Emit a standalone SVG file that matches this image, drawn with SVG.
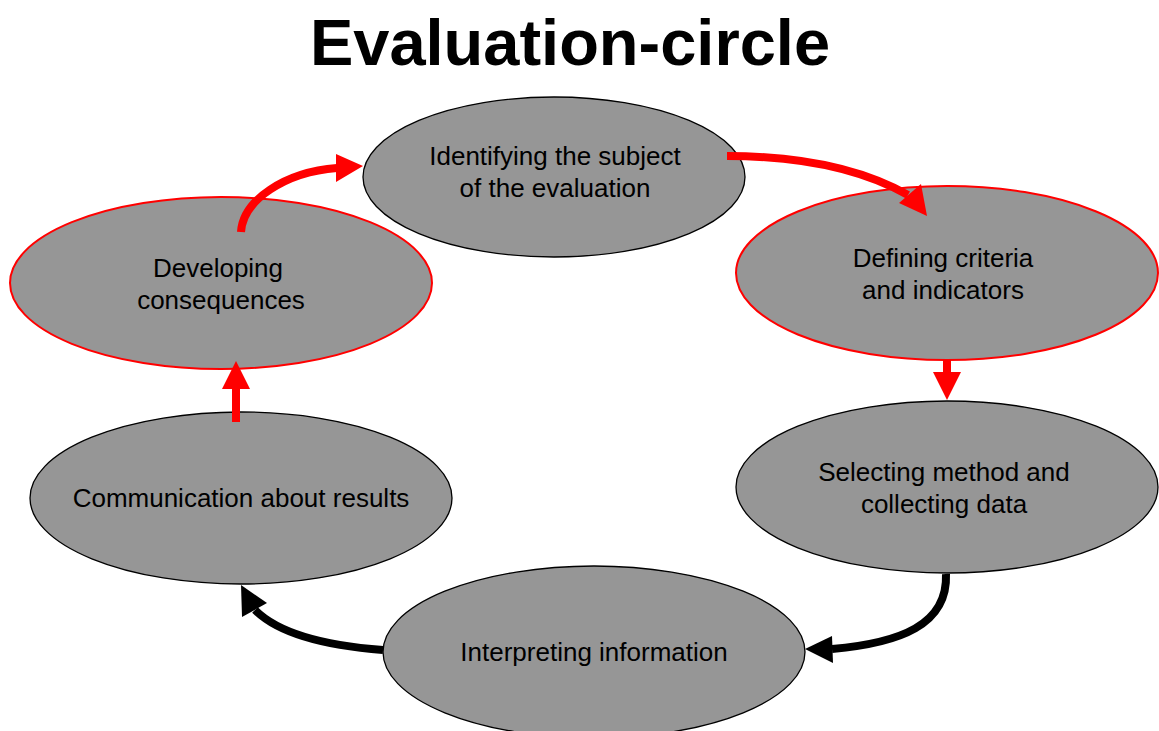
<svg xmlns="http://www.w3.org/2000/svg" width="1159" height="731" viewBox="0 0 1159 731">
<style>
.node{fill:#969696;stroke:#000;stroke-width:1.3}
.rnode{fill:#969696;stroke:#ff0000;stroke-width:2}
.lbl{font-family:"Liberation Sans",Arial,sans-serif;font-size:26px;fill:#000;text-anchor:middle}
.title{font-family:"Liberation Sans",Arial,sans-serif;font-size:65px;font-weight:bold;fill:#000;text-anchor:middle}
.rc{fill:none;stroke:#ff0000;stroke-width:8}
.bc{fill:none;stroke:#000;stroke-width:8}
.rh{fill:#ff0000}
.bh{fill:#000}
</style>
<rect width="1159" height="731" fill="#fff"/>
<text class="title" x="570" y="65">Evaluation-circle</text>
<g id="n-identifying">
<ellipse class="node" cx="554" cy="177" rx="191" ry="80"/>
<text class="lbl" x="555" y="165">Identifying the subject</text>
<text class="lbl" x="555" y="197">of the evaluation</text>
</g>
<g id="n-defining">
<ellipse class="rnode" cx="947" cy="273" rx="211" ry="87"/>
<text class="lbl" x="943" y="267">Defining criteria</text>
<text class="lbl" x="943" y="299">and indicators</text>
</g>
<g id="n-selecting">
<ellipse class="node" cx="947" cy="487" rx="211" ry="86"/>
<text class="lbl" x="944" y="481">Selecting method and</text>
<text class="lbl" x="944" y="513">collecting data</text>
</g>
<g id="n-interpreting">
<ellipse class="node" cx="594" cy="652" rx="211" ry="86"/>
<text class="lbl" x="594" y="661">Interpreting information</text>
</g>
<g id="n-communication">
<ellipse class="node" cx="241" cy="498" rx="211" ry="86"/>
<text class="lbl" x="241" y="507">Communication about results</text>
</g>
<g id="n-developing">
<ellipse class="rnode" cx="221" cy="283" rx="211" ry="86"/>
<text class="lbl" x="218" y="277">Developing</text>
<text class="lbl" x="221" y="309">consequences</text>
</g>
<g id="connectors">
<path class="rc" d="M241,232 C243,200 285,172 337,168"/>
<polygon class="rh" points="336,154 363,166 336,182"/>
<path class="rc" d="M727,156 C800,156 860,168 908,195"/>
<polygon class="rh" points="899,203 927,216 921,184"/>
<path class="rc" d="M947,360 L947,373"/>
<polygon class="rh" points="933,372 961,372 947,400"/>
<path class="bc" d="M946,574 C948,625 900,643 832,649"/>
<polygon class="bh" points="805,649 832,636 833,663"/>
<path class="bc" d="M383,650 C330,646 280,635 255,610"/>
<polygon class="bh" points="241,585 267,603 242,617"/>
<path class="rc" d="M236,422 L236,388"/>
<polygon class="rh" points="236,361 222,389 250,389"/>
</g>
</svg>
